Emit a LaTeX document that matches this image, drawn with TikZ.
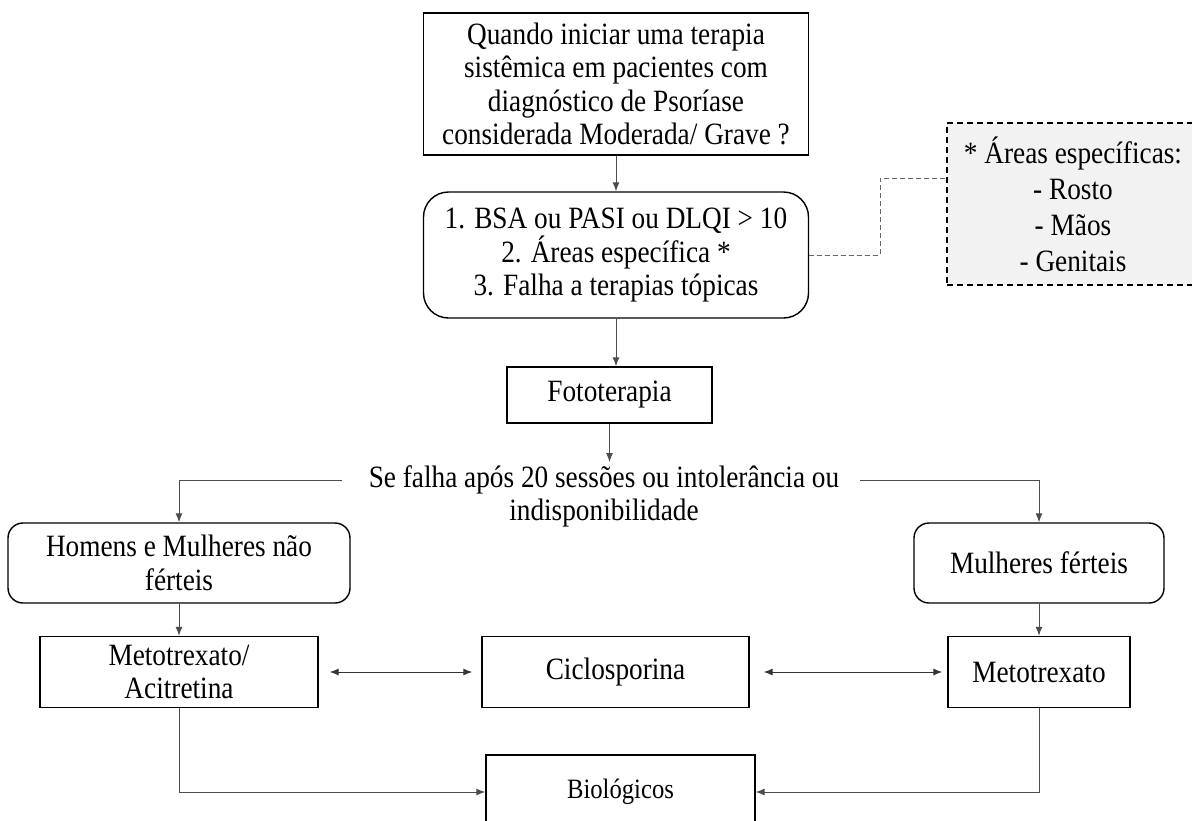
\documentclass[tikz,border=0pt]{standalone}
\usepackage{fontspec}
\setmainfont{Liberation Serif}[FakeStretch=0.88]
\usetikzlibrary{positioning,arrows.meta,calc}

\tikzset{
  box/.style={draw=black, line width=1.4pt, align=center, inner sep=0pt, font=\fontsize{31}{33.5}\selectfont},
  roundbox/.style={box, rounded corners=15pt},
  arr/.style={draw=black!70, line width=1pt, -{Latex[length=9pt,width=7pt]}},
  dblarr/.style={draw=black!80, line width=1pt, {Latex[length=9pt,width=7pt]}-{Latex[length=9pt,width=7pt]}},
  dashline/.style={draw=black!60, line width=1pt, dash pattern=on 5pt off 3pt}
}

\begin{document}
\begin{tikzpicture}[x=1pt,y=-1pt]
  \clip (0,0) rectangle (1192,820);
  \fill[white] (0,0) rectangle (1192,820);

  % top question and criteria
  \node[box, minimum width=385pt, minimum height=142pt] (quando) at (616,84)
    {Quando iniciar uma terapia\\sistêmica em pacientes com\\diagnóstico de Psoríase\\considerada Moderada/ Grave ?};
  \node[roundbox, rounded corners=25pt, minimum width=385pt, minimum height=126pt] (crit) at (616,255)
    {1. BSA ou PASI ou DLQI > 10\\2. Áreas específica *\\3. Falha a terapias tópicas};
  \node[box, dash pattern=on 6pt off 4pt, fill=black!5, minimum width=252pt, minimum height=162pt,
        font=\fontsize{31}{36}\selectfont] (areas) at (1073,204)
    {* Áreas específicas:\\- Rosto\\- Mãos\\- Genitais};

  \node[box, minimum width=205pt, minimum height=56pt] (foto) at (609.5,395) {Fototerapia};
  \node[align=center, inner sep=3pt, font=\fontsize{31}{33}\selectfont] (falha) at (604,496)
    {Se falha após 20 sessões ou intolerância ou\\indisponibilidade};

  % patient groups
  \node[roundbox, minimum width=342pt, minimum height=80pt] (homens) at (179,563)
    {Homens e Mulheres não\\férteis};
  \node[roundbox, minimum width=250pt, minimum height=80pt] (mulheres) at (1039,563)
    {Mulheres férteis};

  % drugs
  \node[box, minimum width=278pt, minimum height=71pt] (metaci) at (179,672) {Metotrexato/\\Acitretina};
  \node[box, minimum width=267pt, minimum height=71pt] (ciclo) at (615.5,672) {Ciclosporina};
  \node[box, minimum width=182pt, minimum height=71pt] (meto) at (1039,672) {Metotrexato};
  \node[box, minimum width=269pt, minimum height=74pt, font=\fontsize{28}{30}\selectfont] (bio) at (620.5,792) {Biológicos};

  \coordinate (fl) at (342,480);
  \coordinate (fr) at (860,480);

  \draw[arr] (quando) -- (crit);
  \draw[arr] (crit.south) -- (crit.south |- foto.north);
  \draw[arr] (foto.south) -- (foto.south |- falha.north);
  \draw[dashline] (crit.east) -- ++(71,0) |- ([yshift=26pt]areas.west);
  \draw[arr] (fl) -| (homens.north);
  \draw[arr] (fr) -| (mulheres.north);
  \draw[arr] (homens) -- (metaci);
  \draw[arr] (mulheres) -- (meto);
  \draw[dblarr, shorten <=11pt, shorten >=9pt] (metaci) -- (ciclo);
  \draw[dblarr, shorten <=14pt, shorten >=5pt] (ciclo) -- (meto);
  \draw[arr] (metaci.south) |- (bio.west);
  \draw[arr] (meto.south) |- (bio.east);
\end{tikzpicture}
\end{document}
